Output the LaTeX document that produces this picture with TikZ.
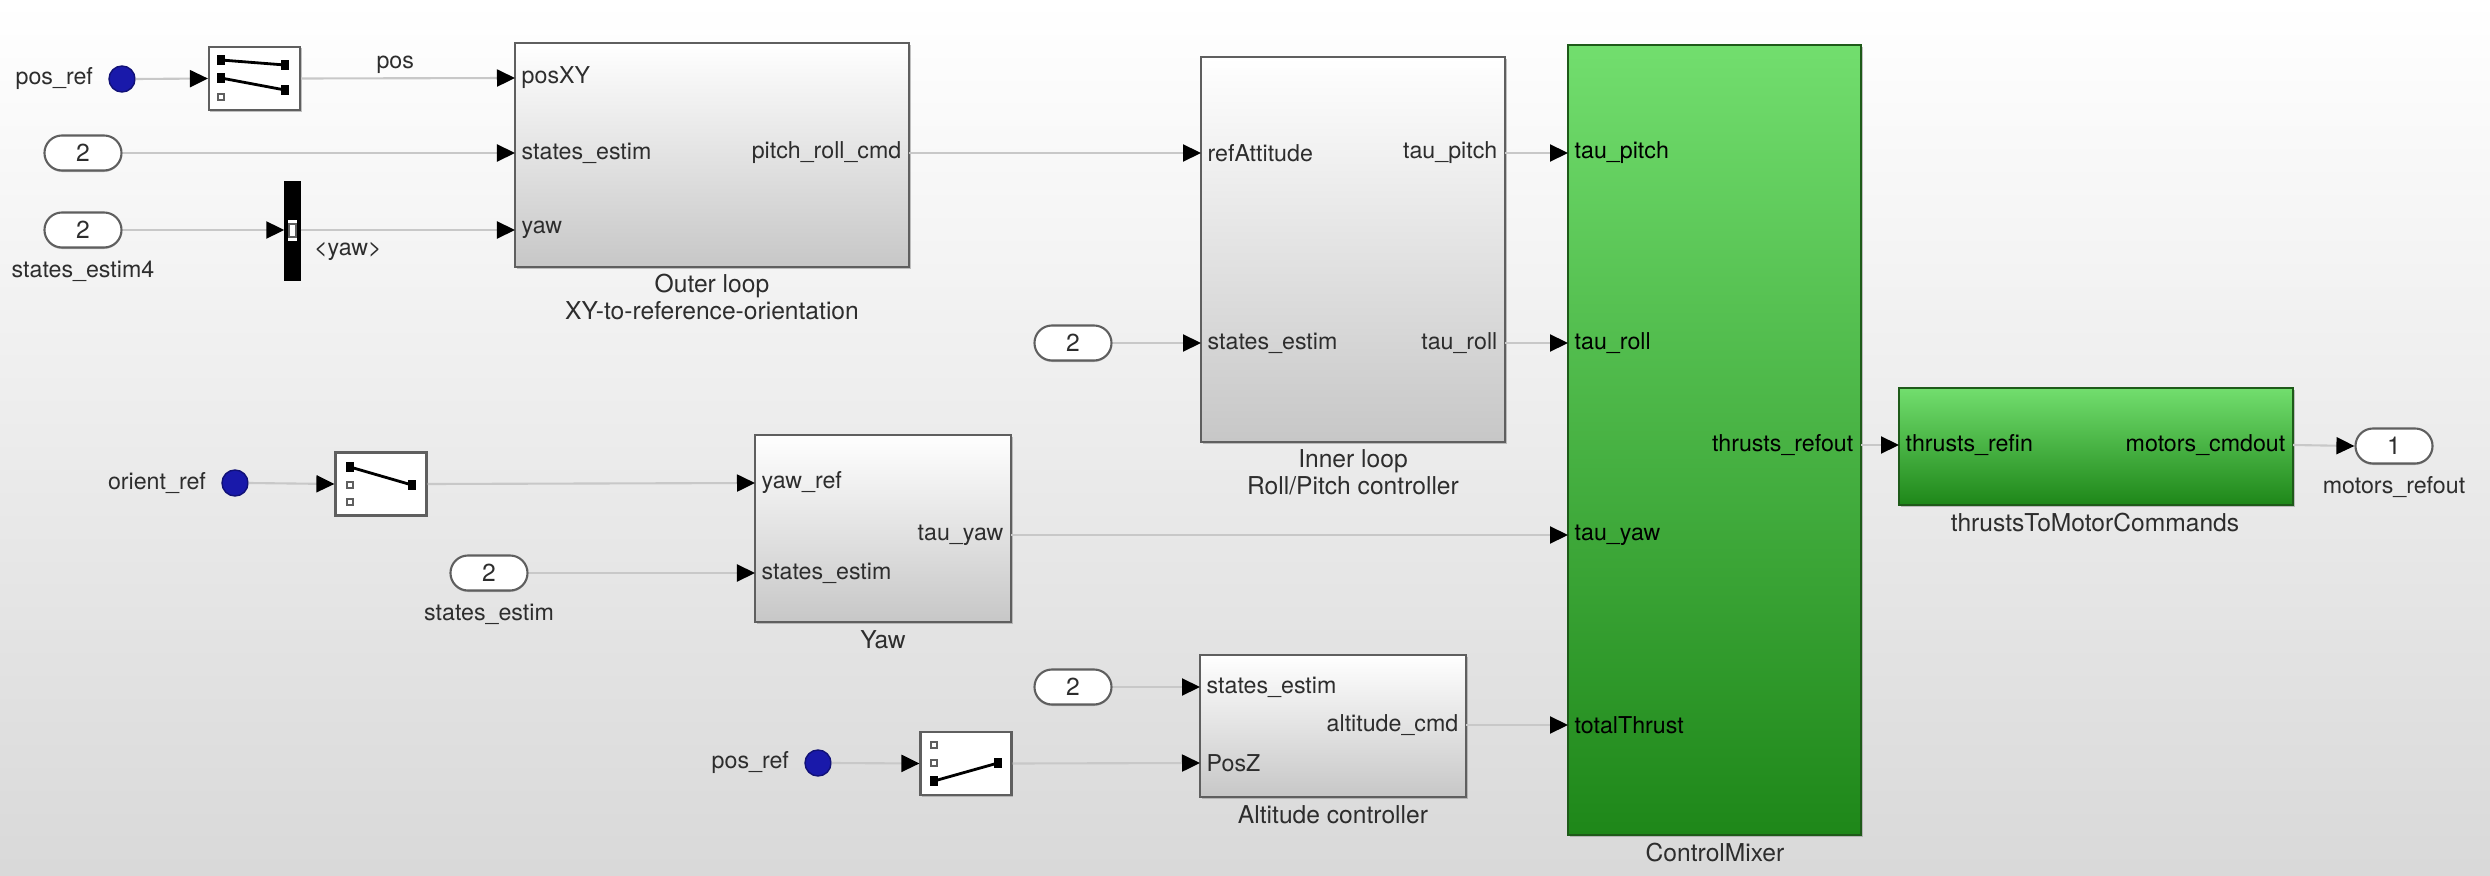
\documentclass[tikz,border=0pt]{standalone}
\usepackage{fontspec}
\setmainfont{TeX Gyre Heros}
\usepackage{tikz}
\usetikzlibrary{arrows.meta,shadows}
\definecolor{linegray}{RGB}{200,200,200}
\definecolor{edgegray}{RGB}{95,95,95}
\definecolor{txtgray}{RGB}{45,45,45}
\definecolor{dotblue}{RGB}{25,25,170}
\definecolor{grnlight}{RGB}{114,222,110}
\definecolor{grndark}{RGB}{30,135,25}
\definecolor{grnedge}{RGB}{30,90,25}

\begin{document}
\begin{tikzpicture}[x=0.01cm, y=-0.01cm,
  every node/.style={font=\fontsize{6.6}{7.6}\selectfont, text=txtgray},
  blk/.style={draw=edgegray, line width=0.7pt, top color=white, bottom color=black!22,
    drop shadow={shadow xshift=0.02cm, shadow yshift=-0.02cm, fill=black!40, opacity=0.6}},
  grnblk/.style={draw=grnedge, line width=0.7pt, top color=grnlight, bottom color=grndark,
    drop shadow={shadow xshift=0.02cm, shadow yshift=-0.02cm, fill=black!40, opacity=0.6}},
  selbox/.style={draw=edgegray, fill=white, line width=0.6pt, minimum width=0.91cm, minimum height=0.63cm,
    drop shadow={shadow xshift=0.015cm, shadow yshift=-0.015cm, fill=black!40, opacity=0.6}},
  tag/.style={draw=edgegray, fill=white, line width=0.6pt, rounded corners=0.175cm, minimum width=0.77cm,
    minimum height=0.35cm, inner sep=0pt, font=\fontsize{7}{8}\selectfont,
    drop shadow={shadow xshift=0cm, shadow yshift=-0.015cm, fill=black!40, opacity=0.6}},
  dot/.style={circle, fill=dotblue, draw=dotblue!70!black, minimum size=0.26cm, inner sep=0pt},
  inport/.style={anchor=west, inner xsep=0.06cm, inner ysep=0pt},
  outport/.style={anchor=east, inner xsep=0.07cm, inner ysep=0pt},
  caption/.style={font=\fontsize{7}{7.8}\selectfont, align=center},
  sigline/.style={draw=linegray, line width=0.6pt, -{Triangle[length=0.18cm, width=0.17cm, black]}}
]
\useasboundingbox (0,0) rectangle (2490,876);
\shade[top color=white, middle color=black!4, bottom color=black!15] (0,0) rectangle (2490,876);

\node[blk, minimum width=3.94cm, minimum height=2.24cm] (outer) at (712,155) {};
\node[blk, minimum width=3.04cm, minimum height=3.85cm] (inner) at (1353,249.5) {};
\node[blk, minimum width=2.56cm, minimum height=1.87cm] (yaw) at (883,528.5) {};
\node[blk, minimum width=2.66cm, minimum height=1.42cm] (alt) at (1333,726) {};
\node[grnblk, minimum width=2.93cm, minimum height=7.90cm] (mixer) at (1714.5,440) {};
\node[grnblk, minimum width=3.94cm, minimum height=1.17cm] (thrusts) at (2096,446.5) {};

\node[caption] (outercap) at (712,297) {Outer loop\\XY-to-reference-orientation};
\node[caption] (innercap) at (1353,472) {Inner loop\\Roll/Pitch controller};
\node[caption] (yawcap) at (883,640) {Yaw};
\node[caption] (altcap) at (1333,815) {Altitude controller};
\node[caption] (mixercap) at (1715,853) {ControlMixer};
\node[caption] (thrustscap) at (2095,523) {thrustsToMotorCommands};

\node[inport] (outerpos) at (515,78) {posXY};
\node[inport] (outerstates) at (515,153) {states\_estim};
\node[inport] (outeryaw) at (515,230) {yaw};
\node[outport] (outercmd) at (909,153) {pitch\_roll\_cmd};
\node[inport] (innerref) at (1201,153) {refAttitude};
\node[inport] (innerstates) at (1201,343) {states\_estim};
\node[outport] (innerpitch) at (1505,153) {tau\_pitch};
\node[outport] (innerroll) at (1505,343) {tau\_roll};
\node[inport] (yawref) at (755,483) {yaw\_ref};
\node[inport] (yawstates) at (755,573) {states\_estim};
\node[outport] (yawtau) at (1011,535) {tau\_yaw};
\node[inport] (altstates) at (1200,687) {states\_estim};
\node[inport] (altposz) at (1200,763) {PosZ};
\node[outport] (altcmd) at (1466,725) {altitude\_cmd};
\node[inport, text=black] (mixerpitch) at (1568,153) {tau\_pitch};
\node[inport, text=black] (mixerroll) at (1568,343) {tau\_roll};
\node[inport, text=black] (mixeryaw) at (1568,535) {tau\_yaw};
\node[inport, text=black] (mixerthrust) at (1568,725) {totalThrust};
\node[outport, text=black] (mixerout) at (1861,445) {thrusts\_refout};
\node[inport, text=black] (thrustsin) at (1899,445) {thrusts\_refin};
\node[outport, text=black] (thrustsout) at (2293,445) {motors\_cmdout};

\node[dot] (posrefdot) at (122,79) {};
\node[left=0.03cm] (posreftxt) at (posrefdot.west) {pos\_ref};
\node[dot] (orientdot) at (235,483) {};
\node[left=0.03cm] (orienttxt) at (orientdot.west) {orient\_ref};
\node[dot] (poszdot) at (818,763) {};
\node[left=0.03cm] (posztxt) at (poszdot.west) {pos\_ref};

\node[selbox] (selpos) at (254.5,78.5) {};
\draw[black, line width=0.8pt] (221,60) -- (285,65);
\draw[black, line width=0.8pt] (221,78) -- (285,90);
\fill[black] (217,55) rectangle (225,65);
\fill[black] (217,73) rectangle (225,83);
\draw[edgegray, line width=0.3pt] (218,94) rectangle (224,100);
\fill[black] (281,60) rectangle (289,70);
\fill[black] (281,85) rectangle (289,95);

\node[selbox] (selorient) at (381,484) {};
\draw[black, line width=0.8pt] (350,467) -- (412,485);
\fill[black] (346,462) rectangle (354,472);
\draw[edgegray, line width=0.3pt] (347,482) rectangle (353,488);
\draw[edgegray, line width=0.3pt] (347,499) rectangle (353,505);
\fill[black] (408,480) rectangle (416,490);

\node[selbox] (selz) at (966,763.5) {};
\draw[black, line width=0.8pt] (934,781) -- (998,763);
\draw[edgegray, line width=0.3pt] (931,742) rectangle (937,748);
\draw[edgegray, line width=0.3pt] (931,760) rectangle (937,766);
\fill[black] (930,776) rectangle (938,786);
\fill[black] (994,758) rectangle (1002,768);

\node[fill=black, draw=black, minimum width=0.15cm, minimum height=0.98cm, inner sep=0pt] (busyaw) at (292.5,231) {};
\fill[white] (288,220) rectangle (297,241);
\draw[edgegray, line width=0.3pt] (289,224) rectangle (296,237);

\node[tag] (statesA) at (83,153) {2};
\node[tag] (statesB) at (83,230) {2};
\node[below] (statesBtxt) at (statesB.south) {states\_estim4};
\node[tag] (statesC) at (1073,343) {2};
\node[tag] (statesD) at (489,573) {2};
\node[below] (statesDtxt) at (statesD.south) {states\_estim};
\node[tag] (statesE) at (1073,687) {2};
\node[tag] (motorsout) at (2394,446) {1};
\node[below] (motorstxt) at (motorsout.south) {motors\_refout};

\draw[sigline] (posrefdot.east) -- (selpos.west);
\draw[sigline] (selpos.east) -- node[above, inner sep=1pt, pos=0.44] {pos} (outerpos.west);
\draw[sigline] (statesA.east) -- (outerstates.west);
\draw[sigline] (statesB.east) -- (busyaw.west |- statesB.east);
\draw[sigline] (busyaw.east |- outeryaw.west) -- node[below, pos=0.22] {<yaw>} (outeryaw.west);
\draw[sigline] (outercmd.east) -- (innerref.west);
\draw[sigline] (statesC.east) -- (innerstates.west);
\draw[sigline] (innerpitch.east) -- (mixerpitch.west);
\draw[sigline] (innerroll.east) -- (mixerroll.west);
\draw[sigline] (orientdot.east) -- (selorient.west);
\draw[sigline] (selorient.east) -- (yawref.west);
\draw[sigline] (statesD.east) -- (yawstates.west);
\draw[sigline] (yawtau.east) -- (mixeryaw.west);
\draw[sigline] (statesE.east) -- (altstates.west);
\draw[sigline] (poszdot.east) -- (selz.west);
\draw[sigline] (selz.east) -- (altposz.west);
\draw[sigline] (altcmd.east) -- (mixerthrust.west);
\draw[sigline] (mixerout.east) -- (thrustsin.west);
\draw[sigline] (thrustsout.east) -- (motorsout.west);
\end{tikzpicture}
\end{document}
